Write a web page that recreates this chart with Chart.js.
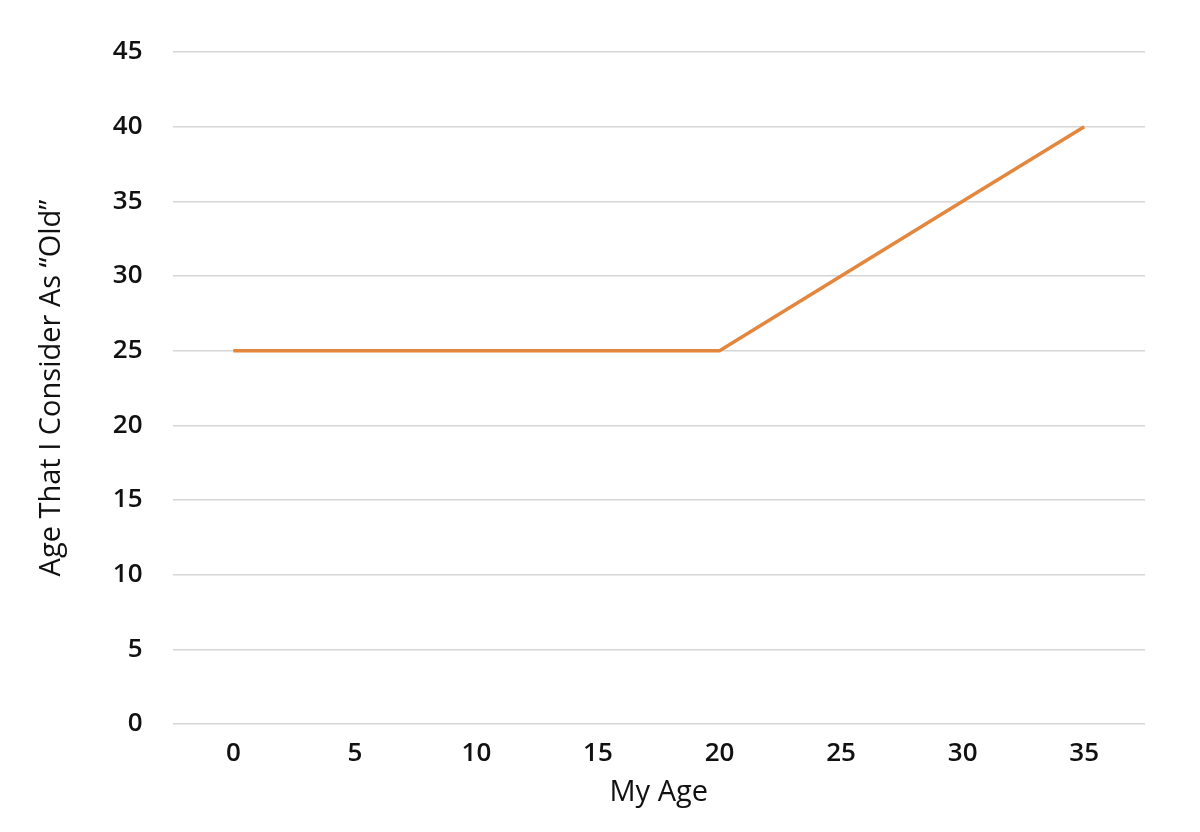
<!DOCTYPE html>
<html>
<head>
<meta charset="utf-8">
<script src="https://cdn.jsdelivr.net/npm/chart.js@4"></script>
<style>
  html, body { margin: 0; padding: 0; background: #fff; }
  #wrap { width: 1200px; height: 832px; }
</style>
</head>
<body>
<div id="wrap"><canvas id="chart" width="1200" height="832"></canvas></div>
<script>
// data
const myAge = ['0', '5', '10', '15', '20', '25', '30', '35'];
const oldAge = [25, 25, 25, 25, 25, 30, 35, 40];
const yTicks = [0, 5, 10, 15, 20, 25, 30, 35, 40, 45];

const font = { family: '"Open Sans", "Noto Sans", sans-serif', size: 26, weight: '600' };

new Chart(document.getElementById('chart'), {
  type: 'line',
  data: {
    labels: myAge,
    datasets: [{
      data: oldAge,
      borderColor: '#E2873D',
      borderWidth: 3.5,
      pointRadius: 0,
      tension: 0
    }]
  },
  options: {
    responsive: false,
    animation: false,
    layout: { padding: { top: 52, right: 55, left: 30, bottom: 18 } },
    plugins: { legend: { display: false }, tooltip: { enabled: false } },
    scales: {
      x: {
        offset: true,
        grid: { display: false },
        border: { display: false },
        ticks: { color: '#111', font: font, padding: 6 },
        title: { display: true, text: 'My Age', color: '#111', font: { ...font, size: 29, weight: '400' }, padding: { top: 0 } }
      },
      y: {
        min: 0, max: 45,
        afterBuildTicks: axis => { axis.ticks = yTicks.map(v => ({ value: v })); },
        grid: { color: '#d6d6d6', lineWidth: 1.5, drawTicks: false },
        border: { display: false },
        ticks: { color: '#111', font: font, padding: 30 },
        title: { display: true, text: 'Age That I Consider As \u201cOld\u201d', color: '#111', font: { ...font, size: 29, weight: '400' }, padding: { bottom: 14 } }
      }
    }
  }
});
</script>
</body>
</html>
